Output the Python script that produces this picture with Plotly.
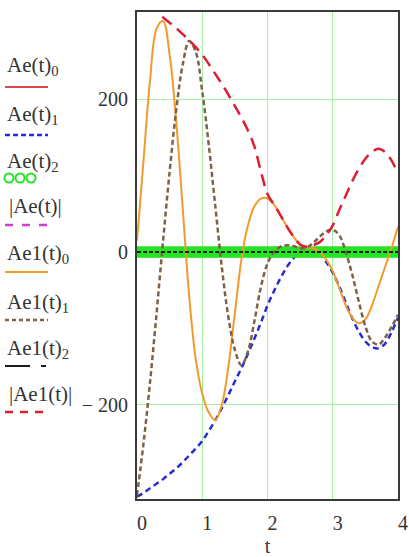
import plotly.graph_objects as go

# sample times (s)
t = [0.0, 0.1, 0.2, 0.3, 0.4, 0.5, 0.6, 0.7, 0.8, 0.9,
     1.0, 1.1, 1.2, 1.3, 1.4, 1.5, 1.6, 1.7, 1.8, 1.9,
     2.0, 2.1, 2.2, 2.3, 2.4, 2.5, 2.6, 2.7, 2.8, 2.9,
     3.0, 3.1, 3.2, 3.3, 3.4, 3.5, 3.6, 3.7, 3.8, 3.9, 4.0]

# components of Ae(t)
ae_0 = [6, 6, 6, 6, 6, 6, 6, 6, 6, 6,
        6, 6, 6, 6, 6, 6, 6, 6, 6, 6,
        6, 6, 6, 6, 6, 6, 6, 6, 6, 6,
        6, 6, 6, 6, 6, 6, 6, 6, 6, 6, 6]
ae_1 = [-320, -315, -309, -303, -297, -290, -283, -275, -266, -257,
        -247, -234, -220, -204, -187, -169, -152, -133, -113, -92,
        -70, -51, -34, -19, -8, -1, 3, 3, -3, -13,
        -27, -45, -66, -87, -104, -117, -124, -126, -120, -105, -86]

# Ae(t)2 and Ae1(t)2 are sampled on a finer time grid
t_fine = [round(i * 0.02, 2) for i in range(201)]
ae_2 = [0] * 201

# components of Ae1(t)
ae1_0 = [15, 120, 225, 292, 302, 258, 172, 58, -58, -140,
         -185, -210, -220, -200, -150, -80, -10, 35, 60, 70,
         70, 62, 48, 33, 20, 10, 6, 5, 0, -10,
         -25, -47, -70, -86, -93, -88, -70, -45, -20, 5, 33]
ae1_1 = [-318, -250, -170, -80, 15, 105, 185, 245, 276, 262,
         210, 140, 60, -20, -85, -128, -148, -130, -90, -45,
         -15, 0, 7, 9, 8, 5, 6, 12, 20, 27,
         29, 22, 0, -30, -65, -97, -117, -121, -112, -98, -82]
ae1_2 = [0] * 201
ae1_abs = [345, 336, 327, 317, 307, 300, 293, 285, 277, 268,
           258, 246, 233, 220, 206, 191, 176, 159, 138, 105,
           76, 62, 48, 33, 20, 10, 7, 9, 13, 22,
           35, 55, 74, 93, 109, 122, 131, 135, 131, 120, 102]

x_ticks = [0, 1, 2, 3, 4]
y_ticks = [-200, 0, 200]
y_tick_text = ["\u2212 200", "0", "200"]

legend_labels = ["Ae(t)<sub>0</sub>", "Ae(t)<sub>1</sub>", "Ae(t)<sub>2</sub>", "|Ae(t)|",
                 "Ae1(t)<sub>0</sub>", "Ae1(t)<sub>1</sub>", "Ae1(t)<sub>2</sub>", "|Ae1(t)|"]

W, H = 409, 557
L, R, T, B = 137, 11, 12, 58
PW, PH = W - L - R, H - T - B

SERIF = "Liberation Serif"

C_AE0 = "#e04848"
C_AE1 = "#2b2bd6"
C_AE2 = "#22e622"
C_AEABS = "#d040d0"
C_A10 = "#f39a2c"
C_A11 = "#7d6248"
C_A12 = "#1a1a1a"
C_A1ABS = "#dc1f35"

fig = go.Figure()


def add_line(x, y, color, width, dash="solid"):
    fig.add_trace(go.Scatter(x=x, y=y, mode="lines", line_shape="spline",
                             line=dict(color=color, width=width, dash=dash),
                             showlegend=False, hoverinfo="skip"))


add_line(t, ae_0, C_AE0, 1.5)
add_line(t, ae_1, C_AE1, 2.5, "6px,4px")
fig.add_trace(go.Scatter(x=t_fine, y=ae_2, mode="markers",
                         marker=dict(symbol="circle-open", size=9, color=C_AE2,
                                     line=dict(width=2, color=C_AE2)),
                         showlegend=False, hoverinfo="skip"))
add_line(t, ae1_0, C_A10, 2)
add_line(t, ae1_1, C_A11, 2.5, "5px,3px")
add_line(t_fine, ae1_2, C_A12, 2, "4px,2px")
add_line(t, ae1_abs, C_A1ABS, 2.5, "12px,7px")


def px(x):
    return (x - L) / PW


def py(y):
    return (H - B - y) / PH


# legend: label text with a sample of the line style below it
label_y = [66, 115, 162, 206, 254, 303, 349, 394]
label_x = [5, 5, 5, 7, 5, 5, 5, 7]
sample_y = [87, 135, 178, 225, 272, 320, 366, 412]

for lab, lx, ly in zip(legend_labels, label_x, label_y):
    fig.add_annotation(x=px(lx), y=py(ly), xref="paper", yref="paper",
                       text=lab, showarrow=False, xanchor="left", yanchor="middle",
                       font=dict(family=SERIF, size=21, color="#333333"))

samples = [
    (C_AE0, 2, "solid", sample_y[0]),
    (C_AE1, 2.5, "5px,3px", sample_y[1]),
    (C_AEABS, 2.5, "8px,9px", sample_y[3]),
    (C_A10, 2, "solid", sample_y[4]),
    (C_A11, 2.5, "4px,3px", sample_y[5]),
    (C_A1ABS, 2.5, "8px,7px", sample_y[7]),
]
for color, w, dash, sy in samples:
    fig.add_shape(type="line", xref="paper", yref="paper",
                  x0=px(5), x1=px(48), y0=py(sy), y1=py(sy),
                  line=dict(color=color, width=w, dash=dash))
# Ae1(t)2 sample: long dash then short dash
fig.add_shape(type="line", xref="paper", yref="paper",
              x0=px(5), x1=px(30), y0=py(sample_y[6]), y1=py(sample_y[6]),
              line=dict(color=C_A12, width=2))
fig.add_shape(type="line", xref="paper", yref="paper",
              x0=px(41), x1=px(46), y0=py(sample_y[6]), y1=py(sample_y[6]),
              line=dict(color=C_A12, width=2))
# Ae(t)2 sample: open circles
for cx in [9, 20, 31]:
    fig.add_shape(type="circle", xref="paper", yref="paper",
                  x0=px(cx - 4.5), x1=px(cx + 4.5), y0=py(sample_y[2] + 4.5), y1=py(sample_y[2] - 4.5),
                  line=dict(color=C_AE2, width=2))

axis_common = dict(showline=True, mirror=True, linecolor="#3a3a3a", linewidth=2,
                   showgrid=True, gridcolor="#a6f0a6", gridwidth=1, zeroline=False,
                   automargin=False,
                   tickfont=dict(family=SERIF, size=20, color="#333333"))

fig.update_xaxes(range=[0, 4], tickvals=x_ticks, ticktext=[str(v) for v in x_ticks],
                 ticks="outside", ticklen=5, tickcolor="rgba(0,0,0,0)",
                 ticklabelshift=5,
                 title=dict(text="t", font=dict(family=SERIF, size=20, color="#333333"), standoff=11),
                 **axis_common)
fig.update_yaxes(range=[-323, 314], tickvals=y_ticks, ticktext=y_tick_text,
                 ticks="", ticklabelstandoff=3, **axis_common)

fig.update_layout(width=W, height=H, margin=dict(l=L, r=R, t=T, b=B),
                  paper_bgcolor="white", plot_bgcolor="white", showlegend=False)

fig.write_html("out.html")
